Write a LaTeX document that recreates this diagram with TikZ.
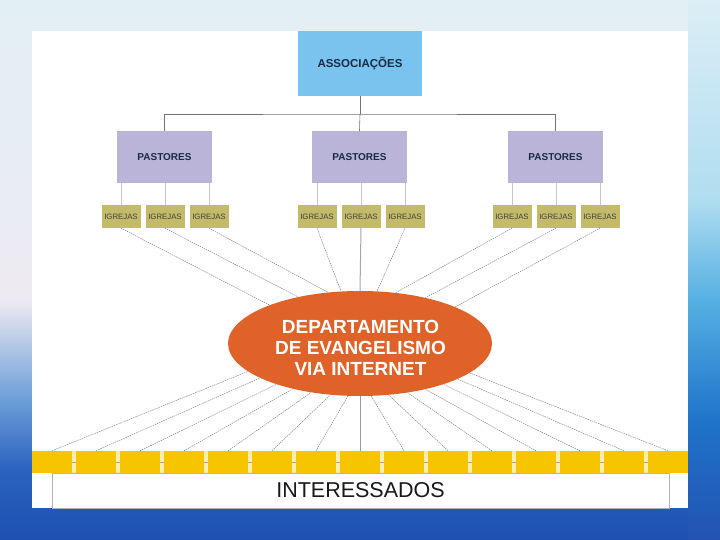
\documentclass[tikz,border=0pt]{standalone}
\usepackage{fontspec}
\setmainfont{Liberation Sans}
\usetikzlibrary{shapes.geometric}
\definecolor{assoc}{HTML}{78C4EE}
\definecolor{past}{HTML}{B9B4D8}
\definecolor{igr}{HTML}{C3BB69}
\definecolor{orng}{HTML}{DF6228}
\definecolor{yel}{HTML}{F7C400}
\definecolor{navy}{HTML}{1B2A44}
\definecolor{bgA}{HTML}{E2EFF5}
\definecolor{bgB}{HTML}{EEEAF2}
\definecolor{bgC}{HTML}{6C9ED8}
\definecolor{bgD}{HTML}{2B62C0}
\definecolor{bgE}{HTML}{1E50B0}
\definecolor{rsA}{HTML}{DCEEF6}
\definecolor{rsB}{HTML}{B0DDF0}
\definecolor{rsC}{HTML}{55B0E2}
\definecolor{rsD}{HTML}{1F74CA}
\definecolor{rsE}{HTML}{2352B2}
\pgfdeclareverticalshading{bgmain}{100bp}{color(0bp)=(bgE); color(25bp)=(bgE); color(31.5bp)=(bgD); color(38bp)=(bgC); color(47.2bp)=(bgB); color(75bp)=(bgA); color(100bp)=(bgA)}
\pgfdeclareverticalshading{bgright}{100bp}{color(0bp)=(rsE); color(25bp)=(rsE); color(36.1bp)=(rsD); color(47.2bp)=(rsC); color(56.5bp)=(rsB); color(75bp)=(rsA); color(100bp)=(rsA)}
\tikzset{
  assocbox/.style={fill=assoc, minimum width=124pt, minimum height=65pt, inner sep=0pt,
    font=\fontsize{11.5}{13}\selectfont\bfseries, text=navy},
  pastbox/.style={fill=past, minimum width=95pt, minimum height=52pt, inner sep=0pt,
    font=\fontsize{10}{11}\selectfont\bfseries, text=navy},
  igrbox/.style={fill=igr, minimum width=39pt, minimum height=23pt, inner sep=0pt,
    font=\fontsize{7.8}{8}\selectfont, text=black!75},
  yelbox/.style={fill=yel, minimum width=40pt, minimum height=22pt, inner sep=0pt},
  treeline/.style={draw=black!55, line width=0.6pt},
  subline/.style={draw=black!22, line width=0.8pt},
  ray/.style={draw=black!60, line width=0.35pt, dash pattern=on 1.5pt off 0.8pt},
  midray/.style={draw=black!35, line width=1pt},
}
\begin{document}
\begin{tikzpicture}[x=1pt,y=-1pt]
\useasboundingbox (0,0) rectangle (720,540);
% background
\shade[shading=bgmain] (0,0) rectangle (720,540);
\shade[shading=bgright] (688,0) rectangle (720,540);
\fill[white] (32,31) rectangle (688,508);
% top levels
\node[assocbox] (a) at (360,63.5) {ASSOCIAÇÕES};
\node[pastbox] (p1) at (164.5,157) {PASTORES};
\node[pastbox] (p2) at (359.5,157) {PASTORES};
\node[pastbox] (p3) at (555.5,157) {PASTORES};
\coordinate (bus) at (360,114);
\draw[treeline] (a.south) -- (bus);
\draw[treeline] (p1.north) |- (bus) -| (p3.north);
\draw[treeline] (bus) -- (p2.north);
% igrejas
\foreach \g/\x in {1/121,2/317,3/512}{
  \foreach \k in {1,2,3}{
    \pgfmathsetmacro{\cx}{\x+44*(\k-1)}
    \node[igrbox] (i\g\k) at (\cx,216.5) {IGREJAS};
    \draw[subline] (i\g\k.north) -- (i\g\k.north |- p\g.south);
  }
}
% ellipse
\node[ellipse, fill=orng, minimum width=264pt, minimum height=105pt, inner sep=0pt] (e) at (360,343.5) {};
\node[text=white, align=center, inner sep=0pt, font=\fontsize{19}{21}\selectfont\bfseries] (et) at (360.5,347.5)
  {DEPARTAMENTO\\DE EVANGELISMO\\VIA INTERNET};
\foreach \n/\ang in {11/157.5,12/143.6,13/122.6,21/110.5,23/72,31/55.8,32/35.6,33/21.6}{
  \draw[ray] (i\n.south) -- (e.\ang);
}
\draw[midray] (i22.south) -- (e.north);
% interessados
\node[draw=black!30, fill=white, minimum width=617pt, minimum height=35pt, inner sep=0pt,
  font=\fontsize{21.5}{24}\selectfont, text=black!90] (int) at (360.5,490.5) {\raisebox{-1.5pt}{INTERESSADOS}};
\fill[yel!30] (32,451) rectangle (688,473);
\draw[black!35, line width=0.4pt] (32,462) -- (688,462);
\foreach \k/\ang in {1/194.6,2/199.9,3/206,4/214.4,5/225.9,6/240.7,7/257.4,8/270,9/282.6,10/299.3,11/314.1,12/325.6,13/334,14/340.1,15/345.4}{
  \pgfmathsetmacro{\cx}{52+44*(\k-1)}
  \node[yelbox] (y\k) at (\cx,462) {};
  \ifnum\k=8
    \draw[draw=black!40, line width=0.6pt] (y\k.north) -- (e.\ang);
  \else
    \draw[ray] (y\k.north) -- (e.\ang);
  \fi
}
\end{tikzpicture}
\end{document}
